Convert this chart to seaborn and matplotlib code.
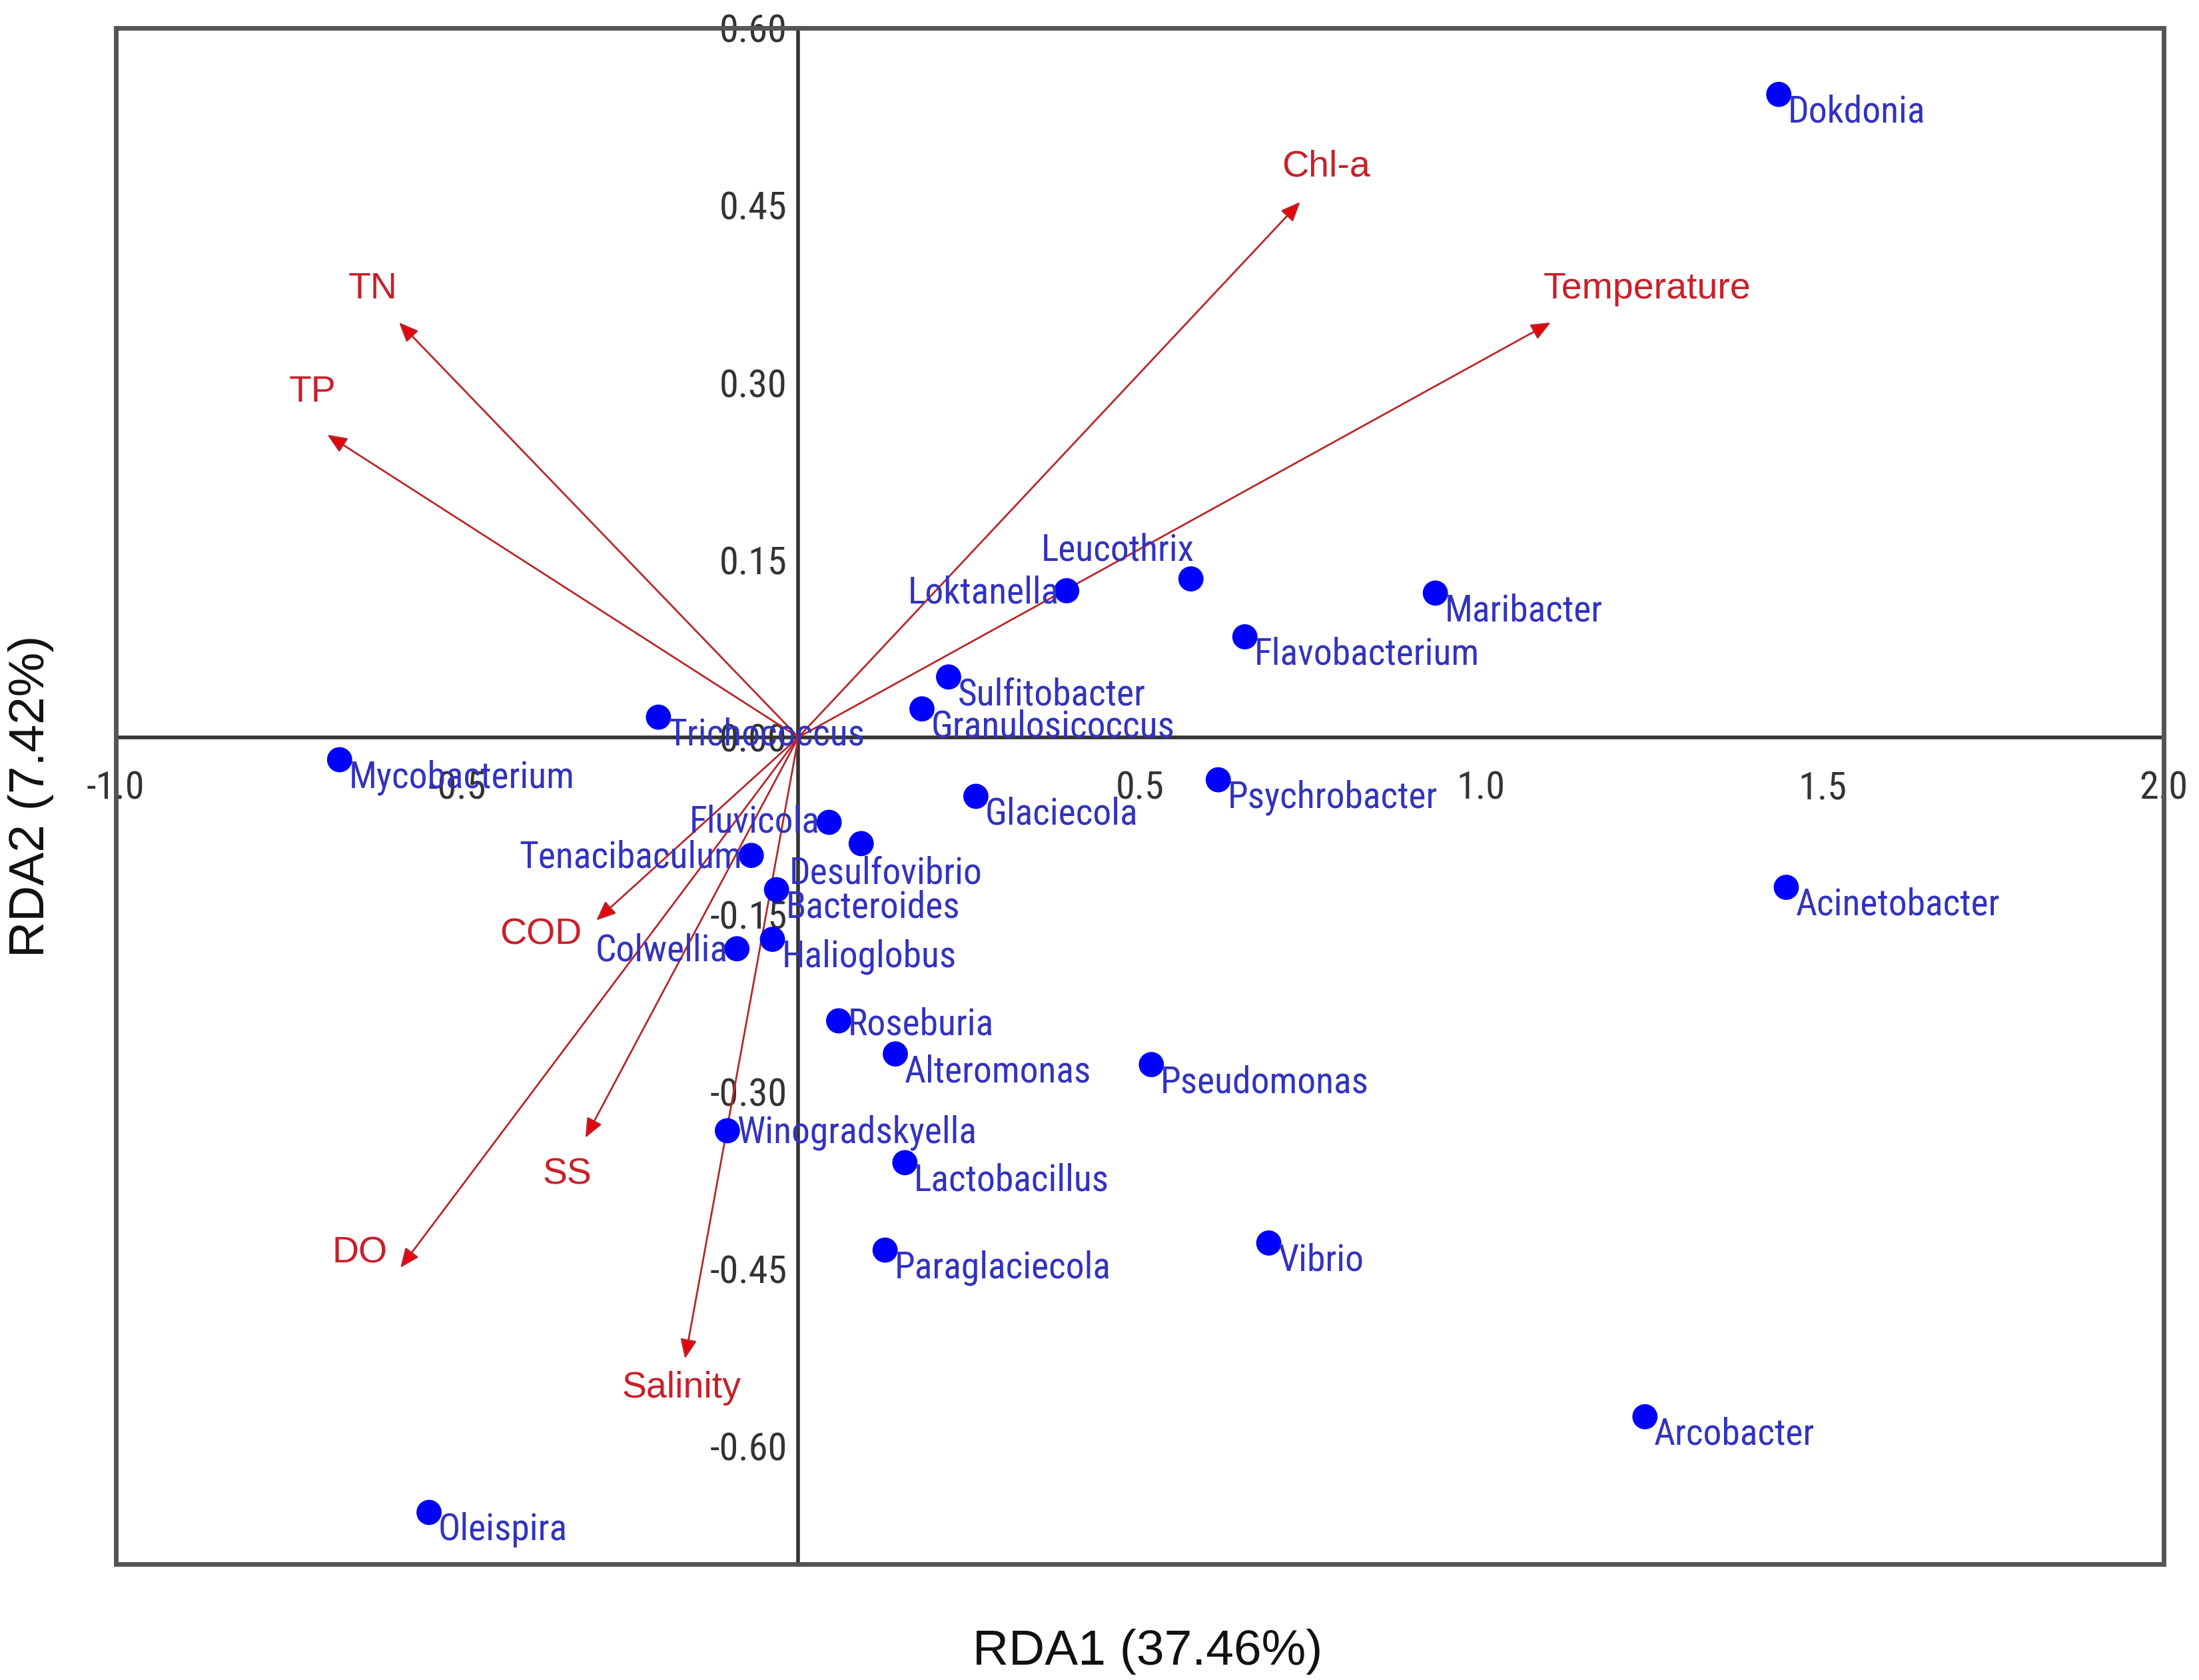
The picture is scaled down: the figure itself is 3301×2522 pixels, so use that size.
import matplotlib
matplotlib.use("Agg")
import matplotlib.pyplot as plt
from matplotlib import font_manager
from matplotlib.patches import Rectangle
import seaborn as sns
import pandas as pd

# species scores (RDA1, RDA2)
species = ["Dokdonia", "Leucothrix", "Loktanella", "Maribacter", "Flavobacterium",
           "Sulfitobacter", "Granulosicoccus", "Trichococcus", "Mycobacterium",
           "Glaciecola", "Psychrobacter", "Fluvicola", "Desulfovibrio", "Tenacibaculum",
           "Bacteroides", "Colwellia", "Halioglobus", "Roseburia", "Alteromonas",
           "Pseudomonas", "Winogradskyella", "Lactobacillus", "Paraglaciecola",
           "Vibrio", "Acinetobacter", "Arcobacter", "Oleispira"]
rda1 = [1.436, 0.575, 0.393, 0.933, 0.654, 0.220, 0.181, -0.205, -0.672,
        0.260, 0.615, 0.045, 0.092, -0.069, -0.032, -0.090, -0.038, 0.059, 0.142,
        0.517, -0.104, 0.156, 0.127, 0.689, 1.447, 1.240, -0.541]
rda2 = [0.544, 0.134, 0.124, 0.122, 0.085, 0.051, 0.024, 0.017, -0.019,
        -0.050, -0.036, -0.072, -0.090, -0.100, -0.129, -0.179, -0.171, -0.240, -0.268,
        -0.277, -0.333, -0.360, -0.434, -0.428, -0.127, -0.575, -0.656]

# environmental factor vectors
env = ["TN", "TP", "Chl-a", "Temperature", "COD", "SS", "DO", "Salinity"]
env_x = [-0.585, -0.690, 0.735, 1.102, -0.296, -0.312, -0.583, -0.166]
env_y = [0.351, 0.256, 0.453, 0.351, -0.155, -0.339, -0.449, -0.526]

x_ticks = [-1.0, -0.5, 0.5, 1.0, 1.5, 2.0]
y_ticks = [0.60, 0.45, 0.30, 0.15, 0.00, -0.15, -0.30, -0.45, -0.60]

# label placement (offset points, ha, va); anything not listed goes lower right
label_pos = {
    "Leucothrix": (2, 6, "right", "bottom"),
    "Loktanella": (-4, -1, "right", "center"),
    "Fluvicola": (-5, 0, "right", "center"),
    "Tenacibaculum": (-5, -1, "right", "center"),
    "Desulfovibrio": (-39, -16, "left", "center"),
    "Colwellia": (-5, -1, "right", "center"),
    "Roseburia": (5, -2, "left", "center"),
    "Winogradskyella": (5, -1, "left", "center"),
}
env_label_pos = {
    "TN": (-14, 18, "center"), "TP": (-8, 23, "center"), "Chl-a": (14, 19, "center"),
    "Temperature": (-4, 18, "left"), "COD": (-30, -8, "center"), "SS": (-10, -20, "center"),
    "DO": (-22, 8, "center"), "Salinity": (-2, -16, "center"),
}

sns.set_style("white")
plt.rcParams["font.family"] = ["Liberation Sans", "DejaVu Sans"]


def pick_condensed():
    prefs = ["Open Sans Condensed", "Noto Sans Condensed", "Roboto Condensed",
             "Liberation Sans Narrow", "DejaVu Sans Condensed"]
    fonts = font_manager.fontManager.ttflist
    for p in prefs:
        key = p.replace(" ", "").lower()
        for f in fonts:
            base = f.fname.split("/")[-1].lower().replace("-", "").replace("_", "")
            if base.startswith(key) and ("bold" not in base) and ("italic" not in base) \
                    and ("light" not in base) and ("semi" not in base) and ("extra" not in base) \
                    and ("medium" not in base) and ("black" not in base) and ("thin" not in base):
                return font_manager.FontProperties(fname=f.fname), 20
    return font_manager.FontProperties(family="Noto Sans"), 16


cond_fp, lab_size = pick_condensed()

df = pd.DataFrame({"species": species, "RDA1": rda1, "RDA2": rda2})

fig = plt.figure(figsize=(16.505, 12.61), dpi=200)
ax = fig.add_axes([0.0526, 0.0688, 0.9314, 0.9144])
ax.set_xlim(-1.0, 2.0)
ax.set_ylim(-0.70, 0.60)

# arrows from origin
for name, ex, ey in zip(env, env_x, env_y):
    ax.annotate("", xy=(ex, ey), xytext=(0, 0),
                arrowprops=dict(arrowstyle="-|>,head_length=0.4,head_width=0.17",
                                mutation_scale=22, lw=1.0, ec="#b8262a", fc="#e8000b",
                                shrinkA=0, shrinkB=0), zorder=3)
    dx, dy, ha = env_label_pos[name]
    ax.annotate(name, xy=(ex, ey), xytext=(dx, dy), textcoords="offset points",
                ha=ha, va="center", fontsize=20, color="#c8202a", zorder=5)

sns.scatterplot(data=df, x="RDA1", y="RDA2", ax=ax, color="#0000ff", s=185,
                edgecolor="none", zorder=4, legend=False)

for name, sx, sy in zip(species, rda1, rda2):
    dx, dy, ha, va = label_pos.get(name, (5, -9.5, "left", "center"))
    ax.annotate(name, xy=(sx, sy), xytext=(dx, dy), textcoords="offset points",
                ha=ha, va=va, fontproperties=cond_fp, fontsize=lab_size,
                color="#3232c0", zorder=5)

# axes through origin, box frame around the plot
for side in ["top", "right"]:
    ax.spines[side].set_visible(False)
ax.spines["left"].set_position(("data", 0))
ax.spines["bottom"].set_position(("data", 0))
for side in ["left", "bottom"]:
    ax.spines[side].set_color("#333333")
    ax.spines[side].set_linewidth(2.0)
ax.add_patch(Rectangle((0, 0), 1, 1, transform=ax.transAxes, fill=False,
                       lw=2.5, ec="#555555", clip_on=False, zorder=6))

ax.set_xticks(x_ticks)
ax.set_xticklabels([f"{v:.1f}" for v in x_ticks])
ax.set_yticks(y_ticks)
ax.set_yticklabels([f"{v:.2f}" for v in y_ticks])
ax.tick_params(axis="x", direction="out", length=8, width=1.5, pad=10,
               colors="#333333", labelsize=lab_size + 1)
ax.tick_params(axis="y", direction="out", length=5, width=1.5, pad=1,
               colors="#333333", labelsize=lab_size + 1)
for lab in ax.get_xticklabels() + ax.get_yticklabels():
    lab.set_fontproperties(cond_fp)
    lab.set_fontsize(lab_size + 1)
ax.set_xlabel("")
ax.set_ylabel("")

fig.text(0.522, 0.017, "RDA1 (37.46%)", ha="center", va="center", fontsize=27, color="#111111")
fig.text(0.014, 0.526, "RDA2 (7.42%)", ha="center", va="center", rotation=90,
         fontsize=27, color="#111111")

fig.savefig("out.png", dpi=200)
